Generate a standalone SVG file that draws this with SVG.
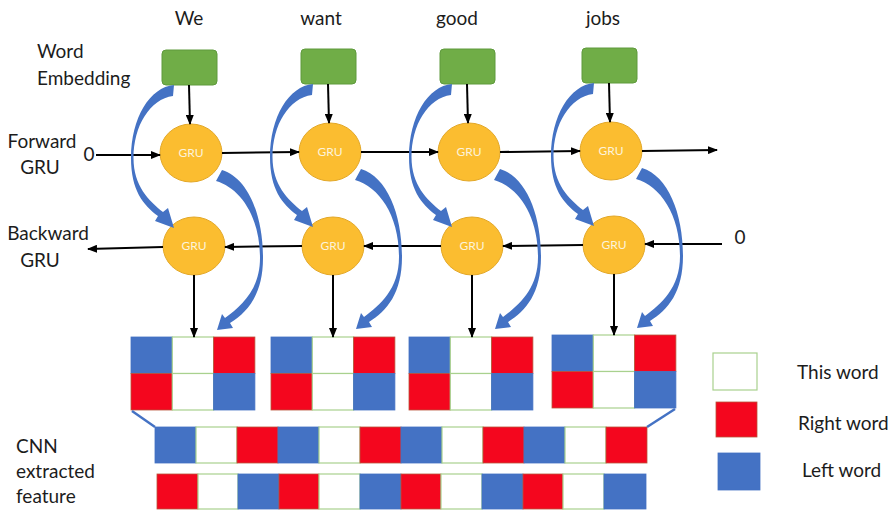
<svg xmlns="http://www.w3.org/2000/svg" xmlns:xlink="http://www.w3.org/1999/xlink" width="895" height="510" viewBox="0 0 895 510">
  <style>
    .lbl { font-family: Lato, "Open Sans", "Liberation Sans", sans-serif; font-size: 19px; fill: #1c1c1c; }
    .gru-t { font-family: Lato, "Open Sans", "Liberation Sans", sans-serif; font-size: 12px; fill: #fdf3da; text-anchor: middle; }
    .emb { fill: #70ad47; stroke: #5e9a3c; stroke-width: 1; }
    .gru { fill: #fbbd30; stroke: #e3a829; stroke-width: 1; }
    .wire { stroke: #000; stroke-width: 2; fill: none; marker-end: url(#head); }
    .bend { fill: #4472c4; }
    .b { fill: #4472c4; stroke: #4472c4; stroke-width: 0.8; }
    .r { fill: #f4061e; stroke: #b9543a; stroke-width: 0.8; }
    .w { fill: #ffffff; stroke: #a9d18e; stroke-width: 1.2; }
    .tie { stroke: #4472c4; stroke-width: 2.5; fill: none; }
  </style>
  <defs>
    <marker id="head" markerUnits="userSpaceOnUse" markerWidth="10" markerHeight="8" refX="9" refY="4" orient="auto">
      <path d="M0,0 L10,4 L0,8 z" fill="#000"/>
    </marker>
    <!-- curved arrow: word embedding feeding the backward GRU -->
    <path id="bendL" class="bend" d="M174,85 C150,87 131,118 131,158 C131,190 143,205 158,216 L155,221 L174,228 L168,208 L163,212 C149,201 133.5,186 133.5,158 C133.5,126 150,99 173,96 Z"/>
    <!-- curved arrow: forward GRU state feeding the right-word cell -->
    <path id="bendR" class="bend" d="M222,170 C248,178 263,215 263,258 C263,294 248,312 230,323 L233,328 L217,330 L222,314 L225,318 C241,306 260,290 260,258 C260,216 240,188 216,181 Z"/>
    <!-- 3x2 feature block: top row L/T/R, bottom row R/T/L -->
    <g id="block">
      <rect class="b" x="0" y="0" width="41.3" height="36.5"/>
      <rect class="w" x="41.3" y="0" width="41.3" height="36.5"/>
      <rect class="r" x="82.6" y="0" width="41.3" height="36.5"/>
      <rect class="r" x="0" y="36.5" width="41.3" height="36.5"/>
      <rect class="w" x="41.3" y="36.5" width="41.3" height="36.5"/>
      <rect class="b" x="82.6" y="36.5" width="41.3" height="36.5"/>
    </g>
  </defs>

  <!-- side labels -->
  <g id="side-labels" class="lbl">
    <text x="37" y="58">Word</text>
    <text x="37" y="85">Embedding</text>
    <text x="42" y="148" text-anchor="middle">Forward</text>
    <text x="40" y="174" text-anchor="middle">GRU</text>
    <text x="48" y="240" text-anchor="middle">Backward</text>
    <text x="40" y="267" text-anchor="middle">GRU</text>
    <text x="16" y="453">CNN</text>
    <text x="16" y="478">extracted</text>
    <text x="16" y="503">feature</text>
    <text x="89" y="161" text-anchor="middle">0</text>
    <text x="740" y="244" text-anchor="middle">0</text>
  </g>

  <!-- words -->
  <g id="words" class="lbl" text-anchor="middle">
    <text x="189" y="25">We</text>
    <text x="321" y="25">want</text>
    <text x="457" y="25">good</text>
    <text x="603" y="25">jobs</text>
  </g>

  <!-- embeddings -->
  <g id="emb1"><rect class="emb" x="162" y="50" width="55" height="35" rx="4"/></g>
  <g id="emb2"><rect class="emb" x="301" y="49" width="55" height="35" rx="4"/></g>
  <g id="emb3"><rect class="emb" x="440" y="49" width="55" height="35" rx="4"/></g>
  <g id="emb4"><rect class="emb" x="582" y="48" width="55" height="35" rx="4"/></g>

  <!-- forward GRUs -->
  <g id="fgru1"><ellipse class="gru" cx="191" cy="153" rx="31" ry="29"/><text class="gru-t" x="191" y="157">GRU</text></g>
  <g id="fgru2"><ellipse class="gru" cx="330" cy="152" rx="31" ry="29"/><text class="gru-t" x="330" y="156">GRU</text></g>
  <g id="fgru3"><ellipse class="gru" cx="469" cy="152" rx="31" ry="29"/><text class="gru-t" x="469" y="156">GRU</text></g>
  <g id="fgru4"><ellipse class="gru" cx="611" cy="151" rx="31" ry="29"/><text class="gru-t" x="611" y="155">GRU</text></g>

  <!-- backward GRUs -->
  <g id="bgru1"><ellipse class="gru" cx="194" cy="246" rx="31" ry="29"/><text class="gru-t" x="194" y="250">GRU</text></g>
  <g id="bgru2"><ellipse class="gru" cx="333" cy="246" rx="31" ry="29"/><text class="gru-t" x="333" y="250">GRU</text></g>
  <g id="bgru3"><ellipse class="gru" cx="472" cy="246" rx="31" ry="29"/><text class="gru-t" x="472" y="250">GRU</text></g>
  <g id="bgru4"><ellipse class="gru" cx="614" cy="245" rx="31" ry="29"/><text class="gru-t" x="614" y="249">GRU</text></g>

  <!-- per-word feature blocks -->
  <g id="feat1"><use xlink:href="#block" href="#block" x="131" y="337"/></g>
  <g id="feat2"><use xlink:href="#block" href="#block" x="271" y="337"/></g>
  <g id="feat3"><use xlink:href="#block" href="#block" x="409" y="337"/></g>
  <g id="feat4"><use xlink:href="#block" href="#block" x="552" y="335"/></g>

  <!-- CNN extracted feature rows -->
  <g id="cnn-top">
    <rect class="b" x="155" y="427" width="41" height="36"/>
    <rect class="w" x="196" y="427" width="41" height="36"/>
    <rect class="r" x="237" y="427" width="41" height="36"/>
    <rect class="b" x="278" y="427" width="41" height="36"/>
    <rect class="w" x="319" y="427" width="41" height="36"/>
    <rect class="r" x="360" y="427" width="41" height="36"/>
    <rect class="b" x="401" y="427" width="41" height="36"/>
    <rect class="w" x="442" y="427" width="41" height="36"/>
    <rect class="r" x="483" y="427" width="41" height="36"/>
    <rect class="b" x="524" y="427" width="41" height="36"/>
    <rect class="w" x="565" y="427" width="41" height="36"/>
    <rect class="r" x="606" y="427" width="41" height="36"/>
  </g>
  <g id="cnn-bottom">
    <rect class="r" x="157" y="474" width="41" height="35"/>
    <rect class="w" x="198" y="474" width="40" height="35"/>
    <rect class="b" x="238" y="474" width="41" height="35"/>
    <rect class="r" x="279" y="474" width="40" height="35"/>
    <rect class="w" x="319" y="474" width="41" height="35"/>
    <rect class="b" x="360" y="474" width="41" height="35"/>
    <rect class="r" x="401" y="474" width="40" height="35"/>
    <rect class="w" x="441" y="474" width="41" height="35"/>
    <rect class="b" x="482" y="474" width="41" height="35"/>
    <rect class="r" x="523" y="474" width="40" height="35"/>
    <rect class="w" x="563" y="474" width="41" height="35"/>
    <rect class="b" x="604" y="474" width="42" height="35"/>
  </g>

  <!-- legend -->
  <g id="legend">
    <rect class="w" x="713" y="353" width="44" height="37"/>
    <rect class="r" x="716" y="402" width="41" height="35"/>
    <rect class="b" x="718" y="453" width="42" height="37"/>
    <text class="lbl" x="797" y="379">This word</text>
    <text class="lbl" x="798" y="430">Right word</text>
    <text class="lbl" x="802" y="477">Left word</text>
  </g>

  <!-- connectors -->
  <g id="connectors">
    <!-- forward chain -->
    <line class="wire" x1="96" y1="155" x2="160" y2="155"/>
    <line class="wire" x1="222" y1="153" x2="299" y2="152"/>
    <line class="wire" x1="361" y1="152" x2="438" y2="152"/>
    <line class="wire" x1="500" y1="152" x2="580" y2="151"/>
    <line class="wire" x1="642" y1="151" x2="717" y2="150"/>
    <!-- backward chain -->
    <line class="wire" x1="722" y1="244" x2="645" y2="244"/>
    <line class="wire" x1="583" y1="245" x2="503" y2="246"/>
    <line class="wire" x1="441" y1="246" x2="364" y2="246"/>
    <line class="wire" x1="302" y1="246" x2="225" y2="247"/>
    <line class="wire" x1="163" y1="247" x2="88" y2="249"/>
    <!-- embedding to forward GRU -->
    <line class="wire" x1="189" y1="85" x2="190" y2="124"/>
    <line class="wire" x1="328" y1="84" x2="329" y2="123"/>
    <line class="wire" x1="467" y1="84" x2="468" y2="123"/>
    <line class="wire" x1="609" y1="83" x2="610" y2="122"/>
    <!-- backward GRU to feature block -->
    <line class="wire" x1="194" y1="275" x2="194" y2="337"/>
    <line class="wire" x1="333" y1="275" x2="333" y2="337"/>
    <line class="wire" x1="472" y1="275" x2="472" y2="337"/>
    <line class="wire" x1="614" y1="274" x2="614" y2="335"/>
    <!-- curved context arrows -->
    <use xlink:href="#bendL" href="#bendL"/>
    <use xlink:href="#bendR" href="#bendR"/>
    <use xlink:href="#bendL" href="#bendL" x="139" y="-1"/>
    <use xlink:href="#bendR" href="#bendR" x="139" y="-1"/>
    <use xlink:href="#bendL" href="#bendL" x="278" y="-1"/>
    <use xlink:href="#bendR" href="#bendR" x="278" y="-1"/>
    <use xlink:href="#bendL" href="#bendL" x="420" y="-2"/>
    <use xlink:href="#bendR" href="#bendR" x="420" y="-2"/>
    <!-- flattening ties -->
    <line class="tie" x1="132" y1="411" x2="155" y2="427"/>
    <line class="tie" x1="675" y1="409" x2="647" y2="427"/>
  </g>
</svg>
